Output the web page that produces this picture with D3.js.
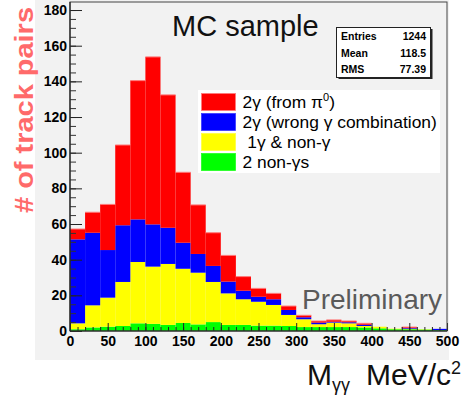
<!DOCTYPE html>
<html lang="en">
<head>
<meta charset="UTF-8">
<title>MC sample</title>
<script src="https://cdn.jsdelivr.net/npm/d3@7/dist/d3.min.js"></script>
<style>
  body { margin: 0; background: #fff; }
  text { font-family: "Liberation Sans", Arial, sans-serif; }
</style>
</head>
<body>
<svg width="462" height="396"></svg>
<script>
// bin edges: 25 bins of 20 MeV from 0 to 500
var binLow = d3.range(0, 500, 20);
var binWidth = 20;

// per-bin counts of each component (stacked bottom -> top: green, yellow, blue, red)
var nonGamma2 = [1, 2, 2.4, 2.8, 4.3, 4, 3.4, 4.5, 3.7, 5, 3.4, 3.4, 3, 3, 2.8, 2.2, 2.2, 2.2, 2.2, 2, 1.5, 1, 1, 0.8, 0.5];
var oneGamma  = [3.3, 12.4, 16.3, 24.7, 34.4, 32.1, 34.2, 30.4, 29, 22.5, 17.7, 14.4, 13.4, 11.6, 6.2, 4.4, 1.6, 2.5, 2.1, 0.8, 0.9, 0.3, 0.2, 0.2, 0];
var wrongComb = [47.1, 40.7, 26.7, 31.8, 23.9, 23.7, 20.3, 14.6, 10.5, 9, 6.6, 4.8, 2.8, 3.2, 2.8, 1.1, 0.9, 0.5, 0.6, 0.7, 0, 0, 0.4, 0, 0.7];
var fromPi0   = [5.8, 11.5, 25.6, 45, 77.8, 93.9, 74.5, 39.5, 27.5, 18.6, 14.7, 7.9, 4.7, 3.3, 2.2, 1.1, 0.9, 1, 0.7, 0.8, 0, 0, 0.6, 0, 0];

var seriesKeys = ["green", "yellow", "blue", "red"];
var legendLabels = ["2γ (from π", "2γ (wrong γ combination)", " 1γ & non-γ", "2 non-γs"];
var statNames = ["Entries", "Mean", "RMS"];
var statValues = ["1244", "118.5", "77.39"];
var yTicks = d3.range(0, 181, 20);
var xTicks = d3.range(0, 501, 50);

var colors = {red: "#ff0000", blue: "#0000ff", yellow: "#ffff00", green: "#00ff00"};
var edgeColors = {red: "#ff7a7a", blue: "#3a3aff", yellow: "#ffff40", green: "#20ff20"};

var svg = d3.select("svg");

// canvas (light grey pad)
svg.append("rect").attr("x", 35).attr("y", 0).attr("width", 414).attr("height", 360).attr("fill", "#f2f2f2");

var x = d3.scaleLinear().domain([0, 500]).range([70, 447]);
var y = d3.scaleLinear().domain([0, 184.5]).range([331, 2]);

// build table for the stack
var table = binLow.map(function (b, i) {
    return {low: b, green: nonGamma2[i], yellow: oneGamma[i], blue: wrongComb[i], red: fromPi0[i]};
});
var stacked = d3.stack().keys(seriesKeys)(table);

var layers = svg.append("g").selectAll("g")
    .data(stacked)
    .enter().append("g")
    .attr("fill", function (d) { return colors[d.key]; });

layers.selectAll("rect")
    .data(function (d) { return d; })
    .enter().append("rect")
    .attr("x", function (d) { return x(d.data.low); })
    .attr("width", function (d) { return x(d.data.low + binWidth) - x(d.data.low); })
    .attr("y", function (d) { return y(d[1]); })
    .attr("height", function (d) { return Math.max(0, y(d[0]) - y(d[1])); });

// light top edge of the red (total) histogram, one segment per filled bin
var redLayer = stacked[3];
svg.append("g").selectAll("line")
    .data(redLayer.filter(function (d) { return d[1] - d[0] > 0; }))
    .enter().append("line")
    .attr("x1", function (d) { return x(d.data.low); })
    .attr("x2", function (d) { return x(d.data.low + binWidth); })
    .attr("y1", function (d) { return y(d[1]); })
    .attr("y2", function (d) { return y(d[1]); })
    .attr("stroke", edgeColors.red)
    .attr("stroke-width", 1);

// y axis: major and minor ticks drawn inside the frame
var yMinor = d3.axisLeft(y).tickValues(d3.range(0, 181, 5)).tickSize(-6).tickFormat("");
svg.append("g").attr("transform", "translate(70,0)").call(yMinor)
    .call(function (g) { g.select(".domain").remove(); g.selectAll("line").attr("stroke", "#333"); });

var yAxis = d3.axisLeft(y).tickValues(yTicks).tickSize(-12).tickPadding(3);
svg.append("g").attr("transform", "translate(70,0)").call(yAxis)
    .call(function (g) {
        g.select(".domain").remove();
        g.selectAll("line").attr("stroke", "#222");
        g.selectAll("text").attr("font-size", 14).attr("font-weight", "bold").attr("fill", "#000")
            .attr("font-family", "Liberation Sans, Arial, sans-serif");
    });

// x axis
var xMinor = d3.axisBottom(x).tickValues(d3.range(0, 501, 10)).tickSize(-4).tickFormat("");
svg.append("g").attr("transform", "translate(0,331)").call(xMinor)
    .call(function (g) { g.select(".domain").remove(); g.selectAll("line").attr("stroke", "#222"); });

var xAxis = d3.axisBottom(x).tickValues(xTicks).tickSize(-8).tickPadding(5);
svg.append("g").attr("transform", "translate(0,331)").call(xAxis)
    .call(function (g) {
        g.select(".domain").remove();
        g.selectAll("line").attr("stroke", "#222");
        g.selectAll("text").attr("font-size", 14).attr("font-weight", "bold").attr("fill", "#000")
            .attr("font-family", "Liberation Sans, Arial, sans-serif");
    });

// frame
svg.append("rect").attr("x", 70).attr("y", 2).attr("width", 377).attr("height", 329)
    .attr("fill", "none").attr("stroke", "#444").attr("stroke-width", 1);
svg.append("line").attr("x1", 70).attr("x2", 70).attr("y1", 2).attr("y2", 331)
    .attr("stroke", "#222").attr("stroke-width", 1.2);
svg.append("line").attr("x1", 70).attr("x2", 447).attr("y1", 331).attr("y2", 331)
    .attr("stroke", "#222").attr("stroke-width", 1.2);

// title
svg.append("text").attr("x", 172).attr("y", 36).attr("font-size", 29).attr("fill", "#111").text("MC sample");

// stats box
svg.append("rect").attr("x", 338.5).attr("y", 29).attr("width", 94).attr("height", 50).attr("fill", "#222");
svg.append("rect").attr("x", 336.5).attr("y", 27.5).attr("width", 94).attr("height", 50)
    .attr("fill", "#fff").attr("stroke", "#222").attr("stroke-width", 1);
statNames.forEach(function (n, i) {
    svg.append("text").attr("x", 341).attr("y", 40 + i * 16.5).attr("font-size", 10.5)
        .attr("font-weight", "bold").attr("fill", "#000").text(n);
    svg.append("text").attr("x", 426).attr("y", 40 + i * 16.5).attr("font-size", 10.5)
        .attr("font-weight", "bold").attr("text-anchor", "end").attr("fill", "#000").text(statValues[i]);
});

// legend
svg.append("rect").attr("x", 198).attr("y", 90).attr("width", 242).attr("height", 83).attr("fill", "#fff");
var legendKeys = ["red", "blue", "yellow", "green"];
legendKeys.forEach(function (k, i) {
    svg.append("rect").attr("x", 201.5).attr("y", 93.5 + i * 20).attr("width", 34).attr("height", 17)
        .attr("fill", colors[k]).attr("stroke", edgeColors[k]).attr("stroke-width", 0.8);
    var t = svg.append("text").attr("x", 242.5).attr("y", 108 + i * 20).attr("font-size", 17.4)
        .attr("fill", "#000").attr("xml:space", "preserve").text(legendLabels[i]);
    if (i === 0) {
        t.append("tspan").attr("font-size", 11).attr("dy", -7).text("0");
        t.append("tspan").attr("dy", 7).text(")");
    }
});

// preliminary
svg.append("text").attr("x", 302).attr("y", 309).attr("font-size", 28).attr("fill", "#5a5a5a").text("Preliminary");

// y title
svg.append("text")
    .attr("transform", "translate(33,213) rotate(-90)")
    .attr("font-size", 26).attr("font-weight", "bold").attr("fill", "#ff6a6a")
    .attr("textLength", 206).attr("lengthAdjust", "spacingAndGlyphs")
    .text("# of track pairs");

// x title
var xt = svg.append("text").attr("x", 307).attr("y", 385).attr("font-size", 30).attr("fill", "#111")
    .attr("xml:space", "preserve");
xt.append("tspan").text("M");
xt.append("tspan").attr("font-size", 18).attr("dy", 6).text("γγ");
xt.append("tspan").attr("dy", -6).attr("dx", 16).text("MeV/c");
xt.append("tspan").attr("font-size", 18).attr("dy", -11).text("2");
</script>
</body>
</html>
